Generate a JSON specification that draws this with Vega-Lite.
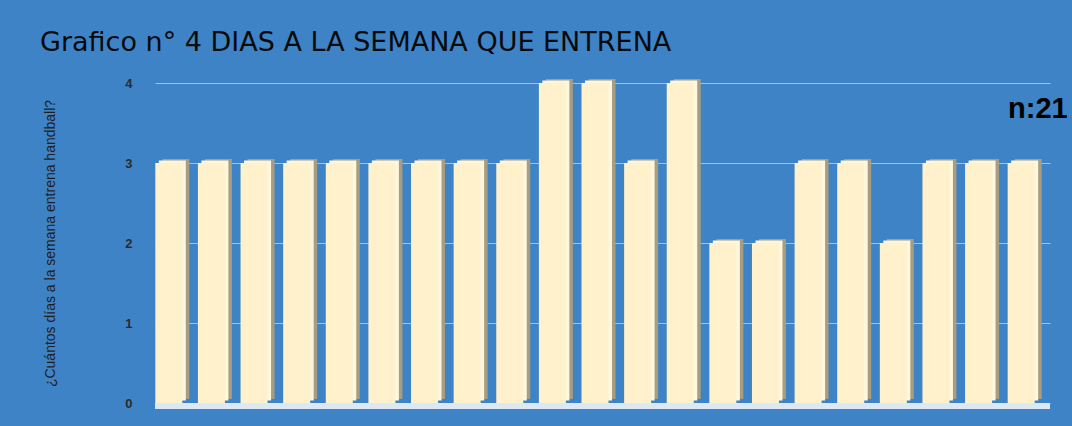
{
  "$schema": "https://vega.github.io/schema/vega-lite/v6.json",
  "autosize": {"type": "none"},
  "width": 895,
  "height": 320,
  "padding": {"left": 155, "top": 83, "right": 22, "bottom": 23},
  "background": "#3e83c5",
  "title": {
    "text": "Grafico n° 4 DIAS A LA SEMANA QUE ENTRENA",
    "anchor": "start",
    "frame": "group",
    "dx": -115,
    "offset": 20,
    "font": "DejaVu Sans",
    "fontSize": 27,
    "fontWeight": "normal",
    "color": "#0a0a0a"
  },
  "config": {
    "view": {"stroke": null},
    "axis": {"labelFont": "Liberation Sans", "titleFont": "Liberation Sans"}
  },
  "data": {
    "values": [
      {"persona": "1", "dias": 3},
      {"persona": "2", "dias": 3},
      {"persona": "3", "dias": 3},
      {"persona": "4", "dias": 3},
      {"persona": "5", "dias": 3},
      {"persona": "6", "dias": 3},
      {"persona": "7", "dias": 3},
      {"persona": "8", "dias": 3},
      {"persona": "9", "dias": 3},
      {"persona": "10", "dias": 4},
      {"persona": "11", "dias": 4},
      {"persona": "12", "dias": 3},
      {"persona": "13", "dias": 4},
      {"persona": "14", "dias": 2},
      {"persona": "15", "dias": 2},
      {"persona": "16", "dias": 3},
      {"persona": "17", "dias": 3},
      {"persona": "18", "dias": 2},
      {"persona": "19", "dias": 3},
      {"persona": "20", "dias": 3},
      {"persona": "21", "dias": 3}
    ]
  },
  "encoding": {
    "x": {
      "field": "persona",
      "type": "ordinal",
      "sort": null,
      "axis": null,
      "scale": {"paddingInner": 0, "paddingOuter": 0}
    }
  },
  "layer": [
    {
      "mark": {"type": "rule", "color": "#dce8f4", "strokeWidth": 6, "yOffset": 3},
      "encoding": {"y": {"datum": 0, "type": "quantitative", "scale": {"domain": [0, 4], "nice": false}}, "x": null}
    },
    {
      "mark": {"type": "bar", "color": "#a69d82", "width": 27, "xOffset": -0.5, "yOffset": -4},
      "encoding": {
        "y": {
          "field": "dias",
          "type": "quantitative",
          "scale": {"domain": [0, 4], "nice": false},
          "axis": {
            "values": [0, 1, 2, 3, 4],
            "format": "d",
            "title": "¿Cuántos días a la semana entrena handball?",
            "titleFontSize": 14,
            "titleFontWeight": "normal",
            "titleColor": "#1e1e1e",
            "titlePadding": 67,
            "labelFontSize": 13,
            "labelFontWeight": "bold",
            "labelColor": "#2b2b2b",
            "labelPadding": 23,
            "ticks": false,
            "tickSize": 0,
            "domain": false,
            "grid": true,
            "gridColor": "#9fc2e6",
            "gridWidth": 1
          }
        }
      }
    },
    {
      "mark": {"type": "bar", "color": "#fff6de", "width": 27, "xOffset": -4, "yOffset": -2.5},
      "encoding": {"y": {"field": "dias", "type": "quantitative"}}
    },
    {
      "mark": {"type": "bar", "color": "#fff1cc", "width": 27, "xOffset": -7.5},
      "encoding": {"y": {"field": "dias", "type": "quantitative"}}
    },
    {
      "data": {"values": [{"persona": "21", "etiqueta": "n:21", "pos": 3.56}]},
      "mark": {
        "type": "text",
        "align": "right",
        "baseline": "alphabetic",
        "dx": 39,
        "font": "Liberation Sans",
        "fontSize": 29,
        "fontWeight": "bold",
        "color": "#000000"
      },
      "encoding": {
        "y": {"field": "pos", "type": "quantitative"},
        "text": {"field": "etiqueta"}
      }
    }
  ]
}
